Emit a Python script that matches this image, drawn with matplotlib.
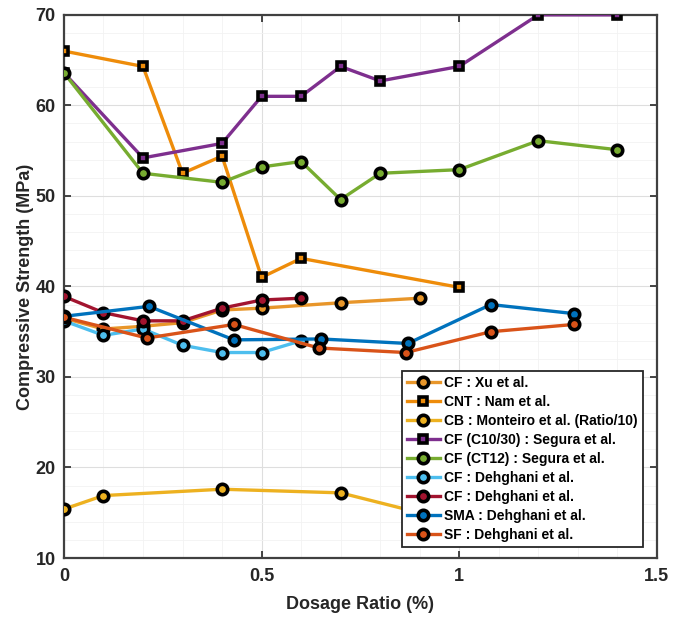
import matplotlib
matplotlib.use("Agg")
import matplotlib.pyplot as plt
from matplotlib.ticker import MultipleLocator

plt.rcParams['font.family'] = ['Liberation Sans', 'DejaVu Sans']

# ---- data ----
xu_x = [0, 0.1, 0.2, 0.3, 0.4, 0.5, 0.7, 0.9]
xu_y = [36.5, 35.3, 35.6, 36.0, 37.4, 37.6, 38.2, 38.7]

nam_x = [0, 0.2, 0.3, 0.4, 0.5, 0.6, 1.0]
nam_y = [66.0, 64.3, 52.5, 54.4, 41.0, 43.1, 39.9]

mon_x = [0, 0.1, 0.4, 0.7, 1.0]
mon_y = [15.4, 16.9, 17.6, 17.2, 13.9]

seg1_x = [0, 0.2, 0.4, 0.5, 0.6, 0.7, 0.8, 1.0, 1.2, 1.4]
seg1_y = [63.6, 54.2, 55.8, 61.0, 61.0, 64.3, 62.7, 64.3, 70.0, 70.0]

seg2_x = [0, 0.2, 0.4, 0.5, 0.6, 0.7, 0.8, 1.0, 1.2, 1.4]
seg2_y = [63.6, 52.5, 51.5, 53.2, 53.8, 49.6, 52.5, 52.9, 56.1, 55.1]

deh1_x = [0, 0.1, 0.2, 0.3, 0.4, 0.5, 0.6]
deh1_y = [36.2, 34.6, 35.3, 33.5, 32.7, 32.7, 34.0]

deh2_x = [0, 0.1, 0.2, 0.3, 0.4, 0.5, 0.6]
deh2_y = [38.9, 37.1, 36.2, 36.2, 37.6, 38.5, 38.7]

sma_x = [0, 0.215, 0.43, 0.65, 0.87, 1.08, 1.29]
sma_y = [36.7, 37.8, 34.1, 34.2, 33.7, 38.0, 37.0]

sf_x = [0, 0.21, 0.43, 0.645, 0.865, 1.08, 1.29]
sf_y = [36.6, 34.3, 35.8, 33.2, 32.7, 35.0, 35.8]

labels = ['CF : Xu et al.', 'CNT : Nam et al.', 'CB : Monteiro et al. (Ratio/10)',
          'CF (C10/30) : Segura et al.', 'CF (CT12) : Segura et al.',
          'CF : Dehghani et al.', 'CF : Dehghani et al.', 'SMA : Dehghani et al.',
          'SF : Dehghani et al.']
series = [(xu_x, xu_y), (nam_x, nam_y), (mon_x, mon_y), (seg1_x, seg1_y), (seg2_x, seg2_y),
          (deh1_x, deh1_y), (deh2_x, deh2_y), (sma_x, sma_y), (sf_x, sf_y)]
colors = ['#E8962A', '#EE8C0A', '#EDB120', '#7E2F8E', '#77AC30',
          '#4DBEEE', '#A2142F', '#0072BD', '#D95319']
markers = ['o', 's', 'o', 's', 'o', 'o', 'o', 'o', 'o']

fig = plt.figure(figsize=(6.73, 6.19), dpi=100)
ax = fig.add_axes([0.095, 0.0985, 0.881, 0.8775])

for (x, y), lab, c, m in zip(series, labels, colors, markers):
    ms = 7.5 if m == 'o' else 6.0
    ax.plot(x, y, color=c, lw=2.4, marker=m, ms=ms, mfc=c, mec='black', mew=2.6, label=lab,
            zorder=3)

ax.set_xlim(0, 1.5)
ax.set_ylim(10, 70)
ax.xaxis.set_major_locator(MultipleLocator(0.5))
ax.yaxis.set_major_locator(MultipleLocator(10))
ax.xaxis.set_minor_locator(MultipleLocator(0.1))
ax.yaxis.set_minor_locator(MultipleLocator(2))
ax.set_xticks([0, 0.5, 1, 1.5])
ax.set_xticklabels(['0', '0.5', '1', '1.5'])
ax.grid(which='major', color='#dedede', lw=0.8)
ax.grid(which='minor', color='#f2f2f2', lw=0.6)
ax.set_axisbelow(True)
ax.tick_params(which='major', direction='in', length=5, width=1.2, colors='#262626',
               labelsize=13, top=True, right=True)
ax.tick_params(axis='x', which='major', pad=7)
ax.tick_params(axis='y', which='major', pad=6)
ax.tick_params(which='minor', length=0)
for lab in ax.get_xticklabels() + ax.get_yticklabels():
    lab.set_fontweight('bold')
for s in ax.spines.values():
    s.set_color('#404040')
    s.set_linewidth(1.6)

ax.set_xlabel('Dosage Ratio (%)', fontsize=13, fontweight='bold', color='#262626', labelpad=8)
ax.set_ylabel('Compressive Strength (MPa)', fontsize=13, fontweight='bold', color='#262626',
              labelpad=1)

leg = ax.legend(loc='lower right', bbox_to_anchor=(0.976, 0.02),
                prop={'weight': 'bold', 'size': 10}, framealpha=1, fancybox=False,
                edgecolor='#262626', handlelength=2.4, handletextpad=0.3, labelspacing=0.36,
                borderpad=0.35, borderaxespad=0)
leg.get_frame().set_linewidth(1.3)

fig.savefig('out.png', dpi=100)
